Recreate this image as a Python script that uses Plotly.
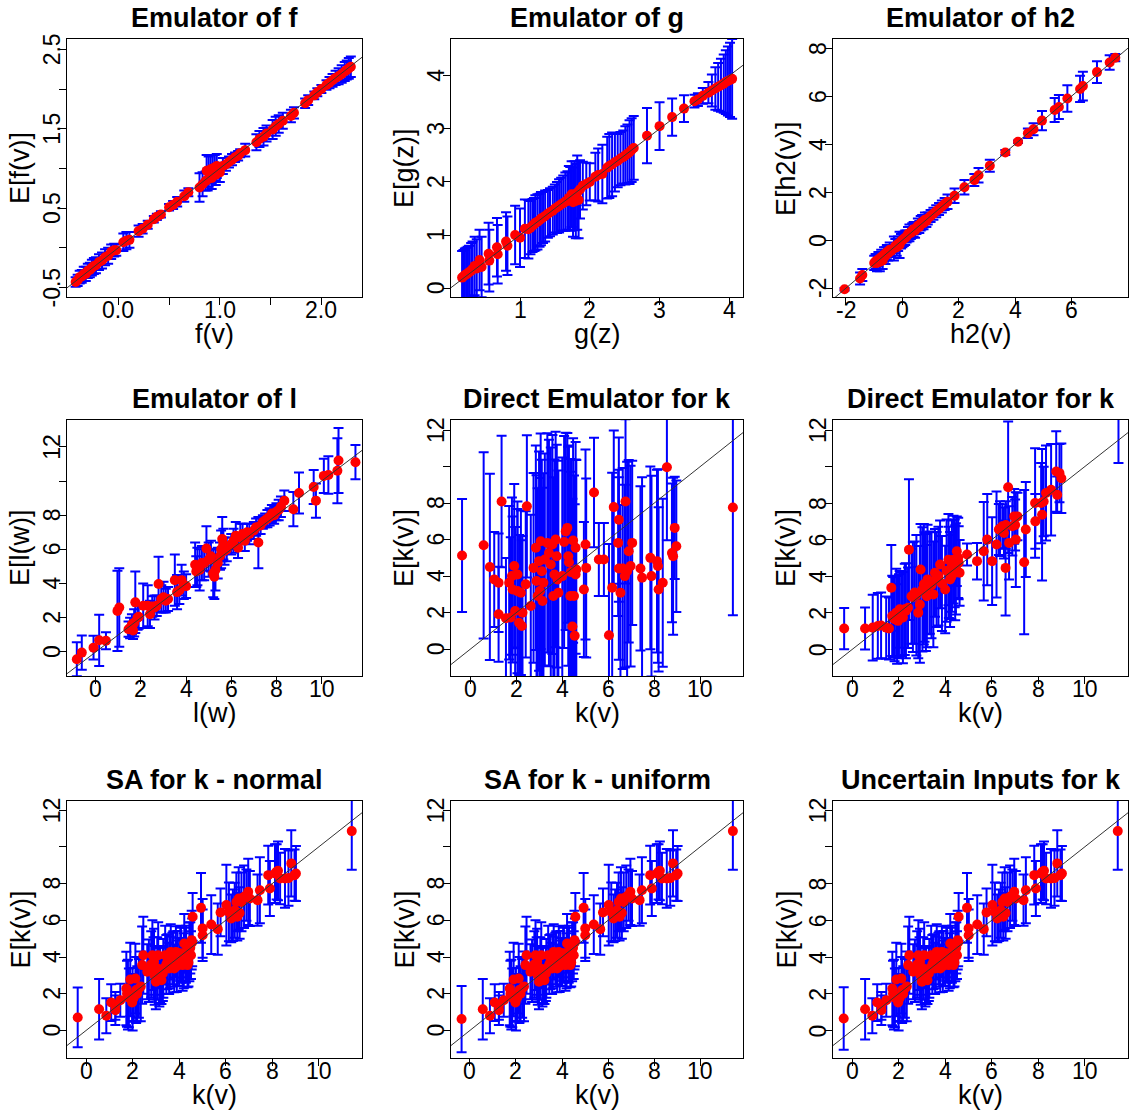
import plotly.graph_objects as go

# ---------------- data: emulator means and +/- error half-widths ----------------
# Emulator of f
f_x = [-0.42, -0.40, -0.38, -0.36, -0.34, -0.32, -0.30, -0.28, -0.26, -0.24, -0.22, -0.19, -0.16, -0.13, -0.10, -0.07, -0.04, -0.02,
       0.05, 0.08, 0.11, 0.20, 0.24, 0.29, 0.35, 0.38, 0.42, 0.50, 0.54, 0.58, 0.65, 0.69, 0.80, 0.83, 0.86,
       0.87, 0.89, 0.91, 0.93, 0.95, 0.97, 0.88, 0.92, 0.96, 1.00, 1.03, 1.06, 1.09, 1.12, 1.15, 1.18, 1.20, 1.25,
       1.36, 1.39, 1.43, 1.46, 1.52, 1.55, 1.58, 1.62, 1.70, 1.73, 1.84, 1.87, 1.93, 1.96, 2.00,
       2.05, 2.08, 2.11, 2.14, 2.17, 2.20, 2.23, 2.25, 2.27, 2.29]
f_mean = [-0.43, -0.41, -0.37, -0.36, -0.33, -0.33, -0.29, -0.28, -0.25, -0.23, -0.22, -0.18, -0.16, -0.12, -0.10, -0.05, -0.03, -0.03,
          0.07, 0.09, 0.10, 0.21, 0.24, 0.29, 0.36, 0.39, 0.42, 0.51, 0.54, 0.58, 0.65, 0.70, 0.76, 0.80, 0.84,
          0.97, 0.96, 0.99, 1.00, 1.01, 1.03, 0.86, 0.88, 0.92, 0.95, 1.03, 1.05, 1.08, 1.11, 1.14, 1.16, 1.19, 1.23,
          1.33, 1.37, 1.40, 1.44, 1.49, 1.53, 1.56, 1.60, 1.66, 1.70, 1.82, 1.86, 1.92, 1.96, 2.00,
          2.05, 2.08, 2.11, 2.14, 2.16, 2.19, 2.22, 2.24, 2.26, 2.28]
f_err = [0.06, 0.07, 0.08, 0.08, 0.09, 0.09, 0.09, 0.09, 0.10, 0.10, 0.10, 0.10, 0.10, 0.10, 0.10, 0.09, 0.08, 0.07,
         0.11, 0.11, 0.10, 0.07, 0.06, 0.05, 0.04, 0.04, 0.04, 0.04, 0.05, 0.06, 0.07, 0.05, 0.18, 0.15, 0.12,
         0.20, 0.19, 0.18, 0.17, 0.16, 0.15, 0.14, 0.14, 0.13, 0.12, 0.10, 0.08, 0.07, 0.07, 0.06, 0.06, 0.05, 0.08,
         0.10, 0.10, 0.11, 0.10, 0.12, 0.12, 0.11, 0.10, 0.08, 0.07, 0.06, 0.06, 0.05, 0.05, 0.05,
         0.06, 0.07, 0.08, 0.09, 0.10, 0.11, 0.12, 0.12, 0.13, 0.13]

# Emulator of g
g_x = [0.17, 0.19, 0.21, 0.23, 0.25, 0.27, 0.30, 0.32, 0.35, 0.38, 0.42, 0.45, 0.55, 0.56, 0.67, 0.68, 0.80, 0.82, 0.93, 1.00, 1.07, 1.12,
       1.15, 1.18, 1.20, 1.22, 1.25, 1.28, 1.30, 1.33, 1.36, 1.40, 1.43, 1.47, 1.50, 1.53, 1.56, 1.59, 1.62, 1.65, 1.68, 1.70,
       1.72, 1.74, 1.76, 1.78, 1.80, 1.82, 1.84, 1.86,
       1.90, 1.95, 2.00, 2.08, 2.12, 2.18, 2.25, 2.28, 2.32, 2.36, 2.40, 2.44, 2.48, 2.51, 2.54, 2.57, 2.60, 2.63,
       2.82, 3.00, 3.18, 3.35, 3.50, 3.55, 3.62, 3.70, 3.75, 3.80, 3.84, 3.88, 3.92, 3.95, 3.98, 4.01, 4.04]
g_mean = [0.20, 0.22, 0.25, 0.26, 0.28, 0.30, 0.33, 0.36, 0.42, 0.37, 0.53, 0.40, 0.65, 0.52, 0.77, 0.64, 0.88, 0.80, 1.00, 0.95, 1.12, 1.11,
          1.14, 1.18, 1.20, 1.23, 1.25, 1.28, 1.31, 1.33, 1.36, 1.40, 1.43, 1.46, 1.50, 1.52, 1.55, 1.58, 1.60, 1.63, 1.65, 1.70,
          1.68, 1.77, 1.62, 1.74, 1.64, 1.80, 1.66, 1.86,
          1.93, 1.96, 2.00, 2.10, 2.13, 2.15, 2.27, 2.30, 2.33, 2.37, 2.40, 2.44, 2.47, 2.50, 2.53, 2.56, 2.60, 2.64,
          2.87, 3.05, 3.22, 3.38, 3.52, 3.55, 3.62, 3.68, 3.72, 3.76, 3.79, 3.82, 3.85, 3.88, 3.90, 3.92, 3.94]
g_err = [0.50, 0.50, 0.50, 0.50, 0.50, 0.50, 0.52, 0.52, 0.55, 0.55, 0.57, 0.57, 0.58, 0.58, 0.55, 0.55, 0.55, 0.55, 0.55, 0.55, 0.55, 0.55,
         0.50, 0.50, 0.50, 0.52, 0.52, 0.50, 0.50, 0.48, 0.48, 0.45, 0.45, 0.45, 0.45, 0.48, 0.50, 0.50, 0.52, 0.55, 0.55, 0.60,
         0.60, 0.62, 0.65, 0.65, 0.70, 0.70, 0.72, 0.55,
         0.45, 0.40, 0.35, 0.45, 0.50, 0.55, 0.58, 0.60, 0.60, 0.55, 0.50, 0.50, 0.50, 0.55, 0.55, 0.60, 0.60, 0.60,
         0.52, 0.45, 0.35, 0.25, 0.12, 0.12, 0.15, 0.20, 0.30, 0.40, 0.45, 0.50, 0.55, 0.60, 0.65, 0.70, 0.75]

# Emulator of h2
h_x = [-2.05, -1.50, -1.42, -1.00, -0.95, -0.90, -0.85, -0.80, -0.75, -0.70, -0.65, -0.60, -0.55, -0.50, -0.45, -0.40,
       -0.30, -0.25, -0.20, -0.15, -0.10, -0.05, 0.00, 0.05, 0.10, 0.15, 0.20, 0.25, 0.30, 0.35, 0.40, 0.45, 0.50,
       0.55, 0.60, 0.65, 0.70, 0.75, 0.80, 0.85, 0.90, 1.00, 1.10, 1.20, 1.30, 1.40, 1.50, 1.60,
       1.85, 2.20, 2.55, 2.70, 3.10, 3.65, 4.10, 4.45, 4.65, 4.95, 5.40, 5.55, 5.85, 6.30, 6.40, 6.90, 7.35, 7.55]
h_mean = [-2.05, -1.60, -1.45, -0.95, -0.88, -0.95, -0.80, -0.90, -0.70, -0.85, -0.60, -0.65, -0.50, -0.55, -0.40, -0.45,
          -0.35, -0.25, -0.30, -0.15, -0.20, -0.05, 0.00, 0.05, 0.10, 0.15, 0.25, 0.30, 0.30, 0.40, 0.45, 0.40, 0.50,
          0.60, 0.55, 0.70, 0.75, 0.70, 0.85, 0.80, 0.90, 1.00, 1.10, 1.20, 1.30, 1.40, 1.50, 1.60,
          1.85, 2.20, 2.50, 2.70, 3.10, 3.65, 4.10, 4.45, 4.62, 4.98, 5.42, 5.55, 5.90, 6.30, 6.42, 7.00, 7.40, 7.60]
h_err = [0.05, 0.25, 0.25, 0.30, 0.30, 0.35, 0.30, 0.40, 0.30, 0.35, 0.30, 0.35, 0.30, 0.30, 0.30, 0.25,
         0.50, 0.30, 0.35, 0.30, 0.55, 0.30, 0.30, 0.30, 0.30, 0.25, 0.30, 0.35, 0.25, 0.30, 0.30, 0.30, 0.25,
         0.30, 0.25, 0.30, 0.30, 0.25, 0.30, 0.25, 0.25, 0.25, 0.25, 0.25, 0.25, 0.25, 0.25, 0.30,
         0.30, 0.30, 0.25, 0.30, 0.25, 0.10, 0.05, 0.20, 0.25, 0.40, 0.50, 0.50, 0.55, 0.55, 0.60, 0.45, 0.30, 0.15]

# Emulator of l
l_x = [-0.84, -0.62, -0.10, 0.15, 0.45, 0.96, 1.04, 1.45, 1.52, 1.60, 1.65, 1.70, 1.75, 1.85, 1.90, 2.10, 2.30, 2.40, 2.50, 2.60,
       2.70, 2.78, 2.90, 3.00, 3.10, 3.20, 3.50, 3.60, 3.70, 3.80, 3.90, 4.00,
       4.40, 4.45, 4.50, 4.60, 4.70, 4.80, 4.90, 5.00, 5.10, 5.20, 5.25, 5.30, 5.40, 5.50, 5.55, 5.60, 5.65, 5.70, 5.80, 6.00,
       6.10, 6.20, 6.30, 6.40, 6.50, 6.60, 6.70, 6.80, 7.00, 7.10, 7.20, 7.30, 7.40, 7.50, 7.60, 7.70, 7.80, 7.90, 8.00, 8.10,
       8.20, 8.35, 8.75, 9.00, 9.65, 9.75, 10.10, 10.30, 10.70, 10.75, 11.50]
l_mean = [-0.43, -0.04, 0.25, 0.68, 0.65, 2.40, 2.60, 1.33, 1.40, 1.60, 1.25, 1.70, 2.90, 2.00, 2.05, 2.70, 2.70, 2.20, 2.65, 2.60,
          2.70, 3.97, 3.10, 3.20, 3.00, 3.10, 4.20, 3.50, 3.60, 4.20, 3.90, 3.85,
          5.10, 4.70, 5.00, 4.80, 5.20, 5.20, 6.05, 5.40, 5.60, 4.60, 4.40, 4.80, 5.20, 5.60, 6.00, 6.60, 6.30, 5.90, 6.00, 6.30,
          6.50, 6.80, 6.10, 6.70, 6.90, 6.50, 7.00, 6.90, 7.10, 7.30, 6.40, 7.40, 7.60, 7.70, 7.80, 7.90, 8.10, 8.00, 8.20, 8.30,
          8.50, 8.85, 8.35, 9.30, 9.65, 8.85, 10.30, 10.35, 10.60, 11.20, 11.10]
l_err = [1.00, 1.00, 0.70, 1.50, 0.50, 2.35, 2.30, 0.45, 0.60, 0.60, 0.50, 0.80, 1.80, 0.70, 0.70, 1.30, 1.20, 0.80, 0.60, 0.70,
         0.60, 1.60, 0.80, 0.90, 0.70, 0.70, 1.50, 1.00, 0.80, 0.90, 0.80, 0.70,
         1.30, 0.90, 1.10, 1.20, 1.00, 1.00, 1.30, 1.00, 0.90, 1.40, 1.30, 1.20, 0.90, 0.80, 1.10, 1.30, 0.90, 0.80, 0.70, 0.60,
         0.70, 0.80, 0.60, 0.80, 0.60, 0.60, 0.50, 0.60, 0.50, 0.50, 1.50, 0.50, 0.40, 0.40, 0.50, 0.50, 0.50, 0.50, 0.50, 0.60,
         0.60, 0.60, 1.00, 1.20, 1.00, 1.00, 1.00, 1.10, 1.90, 1.90, 1.00]

# Direct emulator for k (first fit)
d1_x = [-0.36, 0.58, 0.85, 1.04, 1.23, 1.23, 1.36, 1.55, 1.69, 1.76, 1.81, 1.84, 1.91, 1.95, 2.05, 2.05, 2.12, 2.20, 2.24, 2.27,
        2.41, 2.46, 2.63, 2.75, 2.85, 2.88, 2.93, 2.99, 3.03, 3.06, 3.11, 3.14, 3.18, 3.24, 3.35, 3.42, 3.50, 3.57, 3.61, 3.66,
        3.71, 3.76, 3.79, 3.83, 4.00, 4.08, 4.15, 4.22, 4.26, 4.29, 4.35, 4.38, 4.44, 4.47, 4.51, 4.54, 4.58, 4.58, 4.61, 4.94,
        5.01, 5.04, 5.38, 5.59, 5.81, 6.03, 6.17, 6.24, 6.43, 6.46, 6.46, 6.53, 6.63, 6.72, 6.75, 6.82, 6.89, 6.97, 7.04, 7.40,
        7.47, 7.83, 7.88, 8.12, 8.16, 8.19, 8.37, 8.55, 8.77, 8.82, 8.89, 8.96, 11.42]
d1_mean = [5.13, 5.69, 4.50, 3.82, 3.64, 1.91, 8.09, 1.69, 3.64, 1.73, 4.00, 3.27, 4.55, 2.09, 4.09, 3.18, 1.45, 3.09, 1.27, 2.00,
           3.55, 7.82, 2.36, 4.45, 5.55, 3.73, 2.91, 4.82, 3.18, 5.91, 4.27, 2.64, 3.64, 4.91, 5.82, 5.27, 4.64, 5.73, 2.91, 4.09,
           6.00, 5.09, 3.82, 3.09, 4.00, 5.87, 6.45, 6.64, 5.09, 4.76, 2.91, 4.22, 1.24, 5.95, 2.91, 0.73, 5.55, 4.09, 4.36, 3.27,
           5.73, 4.45, 8.58, 4.91, 4.91, 0.76, 3.36, 7.78, 5.82, 7.09, 4.42, 3.09, 4.42, 4.00, 8.09, 4.27, 5.36, 4.55, 5.82, 4.42,
           3.91, 5.00, 4.00, 4.82, 4.55, 3.27, 3.64, 9.96, 5.27, 5.09, 6.64, 5.64, 7.76]
d1_err = [3.1, 5.1, 5.1, 2.6, 2.7, 2.6, 3.6, 3.3, 4.2, 4.4, 4.3, 4.0, 4.5, 4.6, 4.0, 4.5, 4.8, 4.5, 4.7, 4.2,
          4.0, 3.9, 5.0, 5.2, 5.6, 5.8, 5.9, 6.0, 6.2, 5.9, 6.1, 6.2, 6.0, 5.8, 6.0, 6.2, 6.4, 6.0, 6.5, 6.3,
          5.9, 6.1, 6.5, 6.7, 6.5, 5.8, 5.4, 5.2, 6.0, 6.4, 6.8, 6.2, 7.0, 5.6, 6.6, 7.2, 5.8, 6.3, 6.0, 3.7,
          5.2, 4.9, 3.0, 2.0, 2.0, 5.0, 6.3, 4.2, 4.0, 4.5, 5.0, 4.8, 5.5, 5.0, 4.5, 6.0, 5.0, 5.5, 4.5, 4.5,
          5.5, 5.0, 5.5, 5.0, 5.3, 4.5, 4.6, 4.0, 3.8, 4.3, 2.8, 3.6, 5.9]

# Direct emulator for k (second fit)
d2_x = [-0.36, 0.54, 0.87, 1.09, 1.23, 1.45, 1.57, 1.67, 1.71, 1.81, 1.88, 1.96, 2.03, 2.10, 2.17, 2.25, 2.39, 2.43, 2.54, 2.68,
        2.83, 2.90, 2.93, 3.01, 3.07, 3.16, 3.23, 3.33, 3.48, 3.55, 3.62, 3.77, 3.99, 4.13, 4.20, 4.28, 4.35, 4.42, 4.49, 4.57,
        4.61, 4.93, 5.36, 5.65, 5.80, 6.01, 6.20, 6.30, 6.45, 6.52, 6.59, 6.70, 6.74, 6.88, 6.96, 7.03, 7.10, 7.39, 7.46, 7.86,
        7.87, 8.12, 8.16, 8.23, 8.33, 8.55, 8.77, 8.81, 8.91, 8.99, 11.45,
        1.75, 1.92, 2.00, 2.30, 2.60, 2.75, 3.10, 3.20, 3.40, 3.70, 3.85, 4.05, 4.15, 4.25, 4.40, 4.55, 4.45, 6.35, 6.60, 7.00]
d2_mean = [1.13, 1.13, 1.18, 1.27, 1.30, 1.18, 1.13, 3.36, 1.82, 1.64, 2.00, 1.55, 2.18, 1.90, 1.73, 2.18, 2.27, 5.45, 2.90, 3.10,
           2.00, 2.45, 4.36, 3.27, 3.55, 3.10, 3.82, 3.64, 3.00, 4.18, 3.82, 4.64, 3.27, 4.90, 3.82, 4.55, 4.90, 4.18, 5.36, 4.73,
           4.18, 5.18, 4.82, 5.36, 6.00, 4.82, 5.73, 6.55, 6.73, 6.36, 4.45, 8.87, 5.82, 6.73, 7.27, 6.00, 7.27, 4.76, 6.55, 8.00,
           7.00, 8.00, 7.36, 8.09, 8.55, 8.73, 9.73, 8.45, 9.64, 9.36, 13.20,
           1.75, 1.60, 1.80, 2.10, 2.85, 2.95, 3.40, 2.90, 3.50, 4.00, 3.60, 4.30, 4.20, 3.95, 4.70, 5.00, 4.40, 6.60, 6.80, 6.80]
d2_err = [1.13, 1.15, 1.8, 1.8, 1.8, 1.7, 1.7, 2.35, 2.2, 2.3, 2.4, 2.0, 2.1, 2.3, 2.5, 2.5, 2.2, 3.85, 2.6, 2.8,
          2.5, 3.2, 2.5, 3.4, 3.3, 3.2, 3.0, 2.8, 2.9, 2.4, 2.6, 2.4, 2.4, 2.5, 2.6, 2.5, 2.4, 2.6, 1.9, 2.0,
          1.8, 0.6, 1.0, 2.7, 2.5, 2.4, 2.9, 1.4, 1.2, 1.4, 2.6, 3.6, 2.0, 1.6, 1.5, 2.6, 1.3, 3.95, 2.6, 3.0,
          1.5, 2.2, 3.6, 1.9, 2.6, 2.5, 2.2, 1.0, 1.6, 1.9, 3.0,
          2.2, 2.4, 2.3, 2.6, 3.0, 3.3, 3.0, 2.8, 2.9, 2.7, 2.6, 2.8, 2.5, 2.3, 2.4, 2.2, 2.5, 1.5, 1.3, 1.4]

# k(v) design values shared by the sensitivity-analysis / uncertain-input fits
k_x = [-0.36, 0.56, 0.87, 1.08, 1.26, 1.26, 1.47, 1.73, 1.76, 1.84, 1.90, 1.98, 2.05, 2.12, 2.20, 2.27, 2.41, 2.46, 2.63, 2.85,
       2.90, 2.92, 2.95, 3.00, 3.06, 3.10, 3.18, 3.24, 3.32, 3.40, 3.50, 3.57, 3.64, 3.71, 3.79, 3.86, 3.93, 4.00, 4.08, 4.15,
       4.22, 4.29, 4.36, 4.44, 4.51, 4.54, 4.58, 4.94, 5.01, 5.01, 5.38, 5.66, 5.78, 6.03, 6.14, 6.24, 6.31, 6.39, 6.46, 6.56,
       6.68, 6.79, 6.89, 6.97, 7.04, 7.37, 7.47, 7.83, 7.90, 8.12, 8.19, 8.34, 8.55, 8.82, 8.96, 9.02, 11.42,
       1.80, 2.00, 2.15, 2.35, 2.70, 2.80, 3.15, 3.30, 3.45, 3.60, 3.75, 3.90, 4.05, 4.20, 4.30, 4.40, 4.48, 4.56, 6.50, 6.60,
       8.25, 8.70]

# SA for k - normal
norm_mean = [0.71, 1.16, 0.80, 1.52, 1.34, 1.10, 1.65, 2.29, 2.00, 1.78, 2.78, 1.52, 1.78, 2.83, 2.00, 2.29, 3.56, 4.10, 3.20, 4.10,
             3.38, 3.74, 3.00, 2.65, 3.38, 4.10, 3.00, 2.74, 3.38, 4.10, 3.74, 3.38, 4.28, 3.92, 3.38, 4.28, 3.92, 3.74, 4.10, 3.56,
             4.74, 4.10, 3.56, 4.28, 4.10, 4.92, 6.19, 6.68, 5.56, 5.19, 5.77, 5.52, 6.43, 6.83, 6.46, 6.10, 6.28, 6.55, 7.00, 7.19,
             7.00, 7.28, 7.37, 7.55, 7.19, 7.10, 7.64, 8.46, 7.73, 8.55, 8.64, 8.28, 8.28, 9.10, 8.46, 8.55, 10.86,
             1.95, 1.70, 2.20, 2.40, 3.25, 3.60, 2.90, 3.10, 3.60, 3.70, 3.90, 3.50, 4.20, 3.80, 4.30, 3.70, 4.50, 4.80, 6.20, 6.40,
             8.70, 8.30]
norm_err = [1.63, 1.65, 0.95, 1.0, 0.75, 0.8, 0.9, 2.0, 1.8, 1.6, 2.0, 1.0, 1.3, 1.9, 1.5, 1.6, 2.1, 2.1, 1.5, 1.9,
            1.7, 1.8, 1.6, 1.5, 1.7, 1.8, 1.5, 1.3, 1.6, 1.6, 1.5, 1.4, 1.5, 1.4, 1.3, 1.4, 1.5, 1.3, 1.5, 1.4,
            1.6, 1.5, 1.2, 1.6, 1.3, 1.6, 1.3, 1.9, 1.6, 1.4, 1.6, 1.4, 1.3, 2.2, 1.6, 1.3, 1.4, 1.5, 1.6, 1.7,
            1.6, 1.7, 1.4, 1.8, 1.5, 1.4, 1.8, 1.6, 1.5, 1.6, 1.5, 1.4, 1.6, 1.8, 1.4, 1.5, 2.1,
            1.9, 1.7, 1.8, 1.9, 1.7, 1.8, 1.6, 1.5, 1.6, 1.4, 1.5, 1.4, 1.5, 1.5, 1.4, 1.3, 1.4, 1.3, 1.3, 1.4,
            1.6, 1.5]

# SA for k - uniform
unif_mean = [0.62, 1.16, 0.80, 1.52, 1.34, 1.10, 1.65, 2.29, 2.00, 1.78, 2.78, 1.52, 1.78, 2.83, 2.00, 2.29, 3.56, 4.10, 3.20, 4.10,
             3.38, 3.74, 3.00, 2.65, 3.38, 4.10, 3.00, 2.74, 3.38, 4.10, 3.74, 3.38, 4.28, 3.92, 3.38, 4.28, 3.92, 3.74, 4.10, 3.56,
             4.74, 4.10, 3.56, 4.28, 4.10, 4.92, 6.19, 6.68, 5.56, 5.19, 5.77, 5.52, 6.43, 6.83, 6.46, 6.10, 6.28, 6.55, 7.00, 7.19,
             7.00, 7.28, 7.37, 7.55, 7.19, 7.10, 7.64, 8.46, 7.73, 8.55, 8.64, 8.28, 8.28, 9.10, 8.46, 8.55, 10.86,
             1.95, 1.70, 2.20, 2.40, 3.25, 3.60, 2.90, 3.10, 3.60, 3.70, 3.90, 3.50, 4.20, 3.80, 4.30, 3.70, 4.50, 4.80, 6.20, 6.40,
             8.70, 8.30]
unif_err = [1.80, 1.65, 0.95, 1.0, 0.75, 0.8, 0.9, 2.0, 1.8, 1.6, 2.0, 1.0, 1.3, 1.9, 1.5, 1.6, 2.1, 2.1, 1.5, 1.9,
            1.7, 1.8, 1.6, 1.5, 1.7, 1.8, 1.5, 1.3, 1.6, 1.6, 1.5, 1.4, 1.5, 1.4, 1.3, 1.4, 1.5, 1.3, 1.5, 1.4,
            1.6, 1.5, 1.2, 1.6, 1.3, 1.6, 1.3, 1.9, 1.6, 1.4, 1.6, 1.4, 1.3, 2.2, 1.6, 1.3, 1.4, 1.5, 1.6, 1.7,
            1.6, 1.7, 1.4, 1.8, 1.5, 1.4, 1.8, 1.6, 1.5, 1.6, 1.5, 1.4, 1.6, 1.8, 1.4, 1.5, 2.1,
            1.9, 1.7, 1.8, 1.9, 1.7, 1.8, 1.6, 1.5, 1.6, 1.4, 1.5, 1.4, 1.5, 1.5, 1.4, 1.3, 1.4, 1.3, 1.3, 1.4,
            1.6, 1.5]

# Uncertain inputs for k
ui_mean = [0.65, 1.16, 0.80, 1.52, 1.34, 1.10, 1.65, 2.29, 2.00, 1.78, 2.78, 1.52, 1.78, 2.83, 2.00, 2.29, 3.56, 4.10, 3.20, 4.10,
           3.38, 3.74, 3.00, 2.65, 3.38, 4.10, 3.00, 2.74, 3.38, 4.10, 3.74, 3.38, 4.28, 3.92, 3.38, 4.28, 3.92, 3.74, 4.10, 3.56,
           4.74, 4.10, 3.56, 4.28, 4.10, 4.92, 6.19, 6.68, 5.56, 5.19, 5.77, 5.52, 6.43, 6.83, 6.46, 6.10, 6.28, 6.55, 7.00, 7.19,
           7.00, 7.28, 7.37, 7.55, 7.19, 7.10, 7.64, 8.46, 7.73, 8.55, 8.64, 8.28, 8.28, 9.10, 8.46, 8.55, 10.86,
           1.95, 1.70, 2.20, 2.40, 3.25, 3.60, 2.90, 3.10, 3.60, 3.70, 3.90, 3.50, 4.20, 3.80, 4.30, 3.70, 4.50, 4.80, 6.20, 6.40,
           8.70, 8.30]
ui_err = [1.70, 1.65, 0.95, 1.0, 0.75, 0.8, 0.9, 2.0, 1.8, 1.6, 2.0, 1.0, 1.3, 1.9, 1.5, 1.6, 2.1, 2.1, 1.5, 1.9,
          1.7, 1.8, 1.6, 1.5, 1.7, 1.8, 1.5, 1.3, 1.6, 1.6, 1.5, 1.4, 1.5, 1.4, 1.3, 1.4, 1.5, 1.3, 1.5, 1.4,
          1.6, 1.5, 1.2, 1.6, 1.3, 1.6, 1.3, 1.9, 1.6, 1.4, 1.6, 1.4, 1.3, 2.2, 1.6, 1.3, 1.4, 1.5, 1.6, 1.7,
          1.6, 1.7, 1.4, 1.8, 1.5, 1.4, 1.8, 1.6, 1.5, 1.6, 1.5, 1.4, 1.6, 1.8, 1.4, 1.5, 2.1,
          1.9, 1.7, 1.8, 1.9, 1.7, 1.8, 1.6, 1.5, 1.6, 1.4, 1.5, 1.4, 1.5, 1.5, 1.4, 1.3, 1.4, 1.3, 1.3, 1.4,
          1.6, 1.5]

# tick values (labels that are blank are ticks without text)
k_xticks = [0, 2, 4, 6, 8, 10]
k_xlabels = ["0", "2", "4", "6", "8", "10"]
k_yticks = [0, 2, 4, 6, 8, 10, 12]
k_ylabels = ["0", "2", "4", "6", "8", "", "12"]

# ---------------- layout geometry (pixels) ----------------
W, H = 1130, 1110
COLS = [(67, 362), (451, 743), (833, 1128)]
ROWS = [(39, 297), (420, 676), (801, 1058)]
TITLE_Y = [18, 399, 780]

FONT = "Liberation Sans, Arial, Helvetica, sans-serif"
RED = "#FF0000"
BLUE = "#0000FF"
TICK_SIZE = 23
LAB_SIZE = 27

panels = [
    dict(title="Emulator of f", xlab="f(v)", ylab="E[f(v)]", x=f_x, y=f_mean, e=f_err,
         xr=[-0.505, 2.40], yr=[-0.62, 2.63],
         xt=[0, 0.5, 1, 1.5, 2], xl=["0.0", "", "1.0", "", "2.0"],
         yt=[-0.5, 0, 0.5, 1, 1.5, 2, 2.5], yl=["-0.5", "", "0.5", "", "1.5", "", "2.5"]),
    dict(title="Emulator of g", xlab="g(z)", ylab="E[g(z)]", x=g_x, y=g_mean, e=g_err,
         xr=[0.011, 4.196], yr=[-0.165, 4.69],
         xt=[1, 2, 3, 4], xl=["1", "2", "3", "4"],
         yt=[0, 1, 2, 3, 4], yl=["0", "1", "2", "3", "4"]),
    dict(title="Emulator of h2", xlab="h2(v)", ylab="E[h2(v)]", x=h_x, y=h_mean, e=h_err,
         xr=[-2.46, 8.0], yr=[-2.37, 8.38],
         xt=[-2, 0, 2, 4, 6], xl=["-2", "0", "2", "4", "6"],
         yt=[-2, 0, 2, 4, 6, 8], yl=["-2", "0", "2", "4", "6", "8"]),
    dict(title="Emulator of l", xlab="l(w)", ylab="E[l(w)]", x=l_x, y=l_mean, e=l_err,
         xr=[-1.275, 11.79], yr=[-1.41, 13.57],
         xt=k_xticks, xl=k_xlabels, yt=k_yticks, yl=k_ylabels),
    dict(title="Direct Emulator for k", xlab="k(v)", ylab="E[k(v)]", x=d1_x, y=d1_mean, e=d1_err,
         xr=[-0.84, 11.86], yr=[-1.47, 12.55],
         xt=k_xticks, xl=k_xlabels, yt=k_yticks, yl=k_ylabels),
    dict(title="Direct Emulator for k", xlab="k(v)", ylab="E[k(v)]", x=d2_x, y=d2_mean, e=d2_err,
         xr=[-0.84, 11.86], yr=[-1.47, 12.55],
         xt=k_xticks, xl=k_xlabels, yt=k_yticks, yl=k_ylabels),
    dict(title="SA for k - normal", xlab="k(v)", ylab="E[k(v)]", x=k_x, y=norm_mean, e=norm_err,
         xr=[-0.82, 11.86], yr=[-1.5, 12.5],
         xt=k_xticks, xl=k_xlabels, yt=k_yticks, yl=k_ylabels),
    dict(title="SA for k - uniform", xlab="k(v)", ylab="E[k(v)]", x=k_x, y=unif_mean, e=unif_err,
         xr=[-0.82, 11.86], yr=[-1.5, 12.5],
         xt=k_xticks, xl=k_xlabels, yt=k_yticks, yl=k_ylabels),
    dict(title="Uncertain Inputs for k", xlab="k(v)", ylab="E[k(v)]", x=k_x, y=ui_mean, e=ui_err,
         xr=[-0.82, 11.86], yr=[-1.5, 12.5],
         xt=k_xticks, xl=k_xlabels, yt=k_yticks, yl=k_ylabels),
]

fig = go.Figure()
annotations = []
layout = dict(width=W, height=H, margin=dict(l=0, r=0, t=0, b=0),
              paper_bgcolor="white", plot_bgcolor="white", showlegend=False,
              font=dict(family=FONT, color="black"))


def px_x(p):
    return p / W


def px_y(p):
    return 1 - p / H


for i, p in enumerate(panels):
    n = i + 1
    r, c = divmod(i, 3)
    left, right = COLS[c]
    top, bottom = ROWS[r]
    xa = "x" if n == 1 else f"x{n}"
    ya = "y" if n == 1 else f"y{n}"
    axis_common = dict(showgrid=False, zeroline=False, showline=True, mirror=True,
                       linecolor="black", linewidth=1, ticks="outside", ticklen=7,
                       tickwidth=1, tickcolor="black", showticklabels=False, fixedrange=True)
    layout["xaxis" if n == 1 else f"xaxis{n}"] = dict(
        axis_common, domain=[px_x(left), px_x(right)], range=p["xr"],
        tickvals=p["xt"], anchor=ya)
    layout["yaxis" if n == 1 else f"yaxis{n}"] = dict(
        axis_common, domain=[px_y(bottom), px_y(top)], range=p["yr"],
        tickvals=p["yt"], anchor=xa)

    # points with error bars
    fig.add_trace(go.Scatter(
        x=p["x"], y=p["y"], xaxis=xa, yaxis=ya, mode="markers",
        marker=dict(color=RED, size=10, line=dict(width=0)),
        error_y=dict(type="data", array=p["e"], visible=True, color=BLUE,
                     thickness=2, width=5),
        cliponaxis=True, hoverinfo="skip"))

    # identity line
    lo = min(p["xr"][0], p["yr"][0]) - 1
    hi = max(p["xr"][1], p["yr"][1]) + 1
    fig.add_trace(go.Scatter(
        x=[lo, hi], y=[lo, hi], xaxis=xa, yaxis=ya, mode="lines",
        line=dict(color="#333333", width=1), hoverinfo="skip"))

    cx = (left + right) / 2
    # title
    annotations.append(dict(text=f"<b>{p['title']}</b>", xref="paper", yref="paper",
                            x=px_x(cx), y=px_y(TITLE_Y[r]), xanchor="center", yanchor="middle",
                            showarrow=False, font=dict(size=27, family=FONT, color="black")))
    # x tick labels
    for v, t in zip(p["xt"], p["xl"]):
        if t:
            annotations.append(dict(text=t, xref=xa, yref="paper", x=v, y=px_y(bottom + 13),
                                    xanchor="center", yanchor="middle", showarrow=False,
                                    font=dict(size=TICK_SIZE, family=FONT, color="black")))
    # y tick labels (rotated, reading upward)
    for v, t in zip(p["yt"], p["yl"]):
        if t:
            annotations.append(dict(text=t, xref="paper", yref=ya, x=px_x(left - 15), y=v,
                                    xanchor="center", yanchor="middle", textangle=-90,
                                    showarrow=False, font=dict(size=TICK_SIZE, family=FONT, color="black")))
    # axis titles
    annotations.append(dict(text=p["xlab"], xref="paper", yref="paper", x=px_x(cx),
                            y=px_y(bottom + 37), xanchor="center", yanchor="middle",
                            showarrow=False, font=dict(size=LAB_SIZE, family=FONT, color="black")))
    annotations.append(dict(text=p["ylab"], xref="paper", yref="paper", x=px_x(left - 47),
                            y=px_y((top + bottom) / 2), xanchor="center", yanchor="middle",
                            textangle=-90, showarrow=False,
                            font=dict(size=LAB_SIZE, family=FONT, color="black")))

layout["annotations"] = annotations
fig.update_layout(**layout)
fig.write_html("out.html", config={"displayModeBar": False})
